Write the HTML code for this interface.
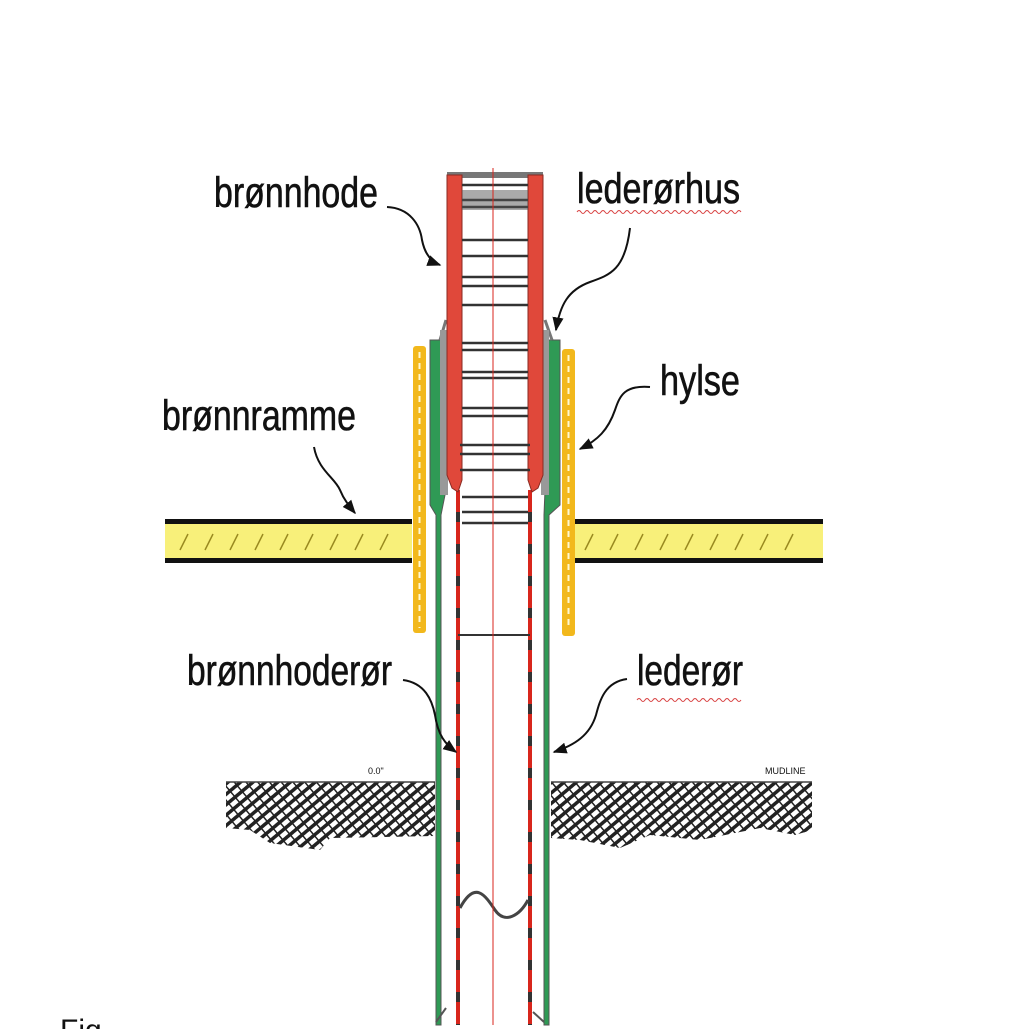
<!DOCTYPE html>
<html><head><meta charset="utf-8"><style>
html,body{margin:0;padding:0;background:#fff;}
svg{display:block;}
text{font-family:"Liberation Sans Narrow","Liberation Sans",sans-serif;fill:#111;}
.lb{stroke:#111;stroke-width:0.6;}
</style></head><body>
<svg width="1029" height="1029" viewBox="0 0 1029 1029" xmlns="http://www.w3.org/2000/svg">
<defs>
<pattern id="hatch" width="8" height="8" patternUnits="userSpaceOnUse" patternTransform="rotate(50)">
<rect width="8" height="8" fill="#fff"/>
<rect width="3.5" height="8" fill="#222"/>
</pattern>
<pattern id="hatch2" width="9" height="9" patternUnits="userSpaceOnUse" patternTransform="rotate(-40)">
<rect width="1.5" height="9" fill="#222"/>
</pattern>
<marker id="ah" viewBox="0 0 10 10" refX="9" refY="5" markerWidth="7" markerHeight="7" orient="auto-start-reverse">
<path d="M0,1 L10,5 L0,9 z" fill="#111"/>
</marker>
</defs>

<!-- ground -->
<path d="M226,782 L435,782 L435,836 L330,838 L320,850 L270,843 L250,830 L226,828 Z" fill="url(#hatch)"/>
<path d="M226,782 L435,782 L435,836 L330,838 L320,850 L270,843 L250,830 L226,828 Z" fill="url(#hatch2)"/>
<path d="M551,782 L812,782 L812,830 L795,835 L760,828 L700,840 L650,835 L620,848 L580,840 L551,838 Z" fill="url(#hatch)"/>
<path d="M551,782 L812,782 L812,830 L795,835 L760,828 L700,840 L650,835 L620,848 L580,840 L551,838 Z" fill="url(#hatch2)"/>
<line x1="226" y1="782" x2="435" y2="782" stroke="#444" stroke-width="1.5"/>
<line x1="551" y1="782" x2="812" y2="782" stroke="#444" stroke-width="1.5"/>
<text x="368" y="774" font-size="9">0.0"</text>
<text x="765" y="774" font-size="9">MUDLINE</text>

<!-- frame bars -->
<rect x="165" y="520" width="247" height="41" fill="#f8f07a"/>
<rect x="165" y="519" width="247" height="5" fill="#111"/>
<rect x="165" y="558" width="247" height="5" fill="#111"/>
<rect x="572" y="520" width="251" height="41" fill="#f8f07a"/>
<rect x="572" y="519" width="251" height="5" fill="#111"/>
<rect x="572" y="558" width="251" height="5" fill="#111"/>
<g stroke="#9a8a20" stroke-width="1.5">
<path d="M180,550 l8,-16 M205,550 l8,-16 M230,550 l8,-16 M255,550 l8,-16 M280,550 l8,-16 M305,550 l8,-16 M330,550 l8,-16 M355,550 l8,-16 M380,550 l8,-16"/>
<path d="M585,550 l8,-16 M610,550 l8,-16 M635,550 l8,-16 M660,550 l8,-16 M685,550 l8,-16 M710,550 l8,-16 M735,550 l8,-16 M760,550 l8,-16 M785,550 l8,-16"/>
</g>

<!-- hylse (yellow sleeves) -->
<rect x="413" y="346" width="13" height="287" rx="3" fill="#f2b81c"/>
<line x1="419.5" y1="352" x2="419.5" y2="628" stroke="#fff8d0" stroke-width="2" stroke-dasharray="6,5"/>
<rect x="562" y="349" width="13" height="287" rx="3" fill="#f2b81c"/>
<line x1="568.5" y1="355" x2="568.5" y2="630" stroke="#fff8d0" stroke-width="2" stroke-dasharray="6,5"/>

<!-- lederør (green outer) -->
<path d="M430,340 L446,340 L446,490 L441,515 L441,1025 L436,1025 L436,515 L430,505 Z" fill="#2f9a55" stroke="#555" stroke-width="1"/>
<path d="M545,340 L560,340 L560,505 L549,515 L549,1025 L544,1025 L544,515 L545,490 Z" fill="#2f9a55" stroke="#555" stroke-width="1"/>
<path d="M446,320 L440,340 M545,320 L552,340" stroke="#777" stroke-width="3"/>
<rect x="440" y="330" width="8" height="165" fill="#999"/>
<rect x="541" y="330" width="8" height="165" fill="#999"/>

<!-- inner pipe -->
<line x1="458" y1="490" x2="458" y2="1025" stroke="#333" stroke-width="4"/>
<line x1="458" y1="490" x2="458" y2="1025" stroke="#d8261c" stroke-width="4" stroke-dasharray="22,10"/>
<line x1="530" y1="490" x2="530" y2="1025" stroke="#333" stroke-width="4"/>
<line x1="530" y1="490" x2="530" y2="1025" stroke="#d8261c" stroke-width="4" stroke-dasharray="22,10"/>
<line x1="458" y1="635" x2="530" y2="635" stroke="#333" stroke-width="2"/>
<path d="M460,908 C475,880 485,895 495,910 C505,925 520,915 528,900" fill="none" stroke="#444" stroke-width="3"/>
<path d="M436,1022 L446,1008 M544,1022 L533,1012" stroke="#555" stroke-width="2"/>

<!-- brønnhode -->
<rect x="447" y="172" width="96" height="6" fill="#777"/>
<path d="M447,175 L462,175 L462,480 L458,492 L452,488 L447,475 Z" fill="#e0483a" stroke="#8a2a22" stroke-width="1"/>
<path d="M528,175 L543,175 L543,475 L538,488 L532,492 L528,480 Z" fill="#e0483a" stroke="#8a2a22" stroke-width="1"/>
<g stroke="#333" stroke-width="2.5">
<line x1="462" y1="185" x2="528" y2="185"/>
<line x1="462" y1="200" x2="528" y2="200"/>
<line x1="462" y1="207" x2="528" y2="207"/>
<line x1="462" y1="240" x2="528" y2="240"/>
<line x1="462" y1="256" x2="528" y2="256"/>
<line x1="462" y1="277" x2="528" y2="277"/>
<line x1="462" y1="286" x2="528" y2="286"/>
<line x1="462" y1="305" x2="528" y2="305"/>
<line x1="462" y1="343" x2="528" y2="343"/>
<line x1="462" y1="350" x2="528" y2="350"/>
<line x1="462" y1="372" x2="528" y2="372"/>
<line x1="462" y1="378" x2="528" y2="378"/>
<line x1="462" y1="408" x2="528" y2="408"/>
<line x1="462" y1="416" x2="528" y2="416"/>
<line x1="460" y1="445" x2="530" y2="445"/>
<line x1="460" y1="454" x2="530" y2="454"/>
<line x1="460" y1="470" x2="530" y2="470"/>
<line x1="462" y1="497" x2="528" y2="497"/>
<line x1="462" y1="512" x2="528" y2="512"/>
<line x1="462" y1="523" x2="528" y2="523"/>
</g>
<rect x="462" y="190" width="66" height="20" fill="#555" opacity="0.5"/>
<line x1="493" y1="168" x2="493" y2="1025" stroke="#d8261c" stroke-width="1"/>

<!-- arrows -->
<g fill="none" stroke="#111" stroke-width="2">
<path d="M387,207 C410,208 420,225 422,240 C425,255 432,262 440,265" marker-end="url(#ah)"/>
<path d="M630,228 C625,270 610,275 590,282 C568,290 560,305 556,330" marker-end="url(#ah)"/>
<path d="M650,387 C625,385 620,395 615,410 C608,430 598,440 580,449" marker-end="url(#ah)"/>
<path d="M314,447 C318,470 335,478 340,490 C344,500 350,507 355,513" marker-end="url(#ah)"/>
<path d="M403,680 C425,683 432,700 435,715 C438,735 445,744 456,752" marker-end="url(#ah)"/>
<path d="M627,679 C605,682 600,700 596,715 C590,735 575,745 554,752" marker-end="url(#ah)"/>
</g>

<!-- labels -->
<text class="lb" x="214" y="207" font-size="43" textLength="164" lengthAdjust="spacingAndGlyphs">brønnhode</text>
<text class="lb" x="577" y="203" font-size="43" textLength="163" lengthAdjust="spacingAndGlyphs">lederørhus</text>
<path d="M577,212 q2,-3 4,0 q2,3 4,0 q2,-3 4,0 q2,3 4,0 q2,-3 4,0 q2,3 4,0 q2,-3 4,0 q2,3 4,0 q2,-3 4,0 q2,3 4,0 q2,-3 4,0 q2,3 4,0 q2,-3 4,0 q2,3 4,0 q2,-3 4,0 q2,3 4,0 q2,-3 4,0 q2,3 4,0 q2,-3 4,0 q2,3 4,0 q2,-3 4,0 q2,3 4,0 q2,-3 4,0 q2,3 4,0 q2,-3 4,0 q2,3 4,0 q2,-3 4,0 q2,3 4,0 q2,-3 4,0 q2,3 4,0 q2,-3 4,0 q2,3 4,0 q2,-3 4,0 q2,3 4,0 q2,-3 4,0 q2,3 4,0 q2,-3 4,0 q2,3 4,0 q2,-3 4,0 q2,3 4,0 q2,-3 4,0" fill="none" stroke="#d84040" stroke-width="1"/>
<text class="lb" x="660" y="395" font-size="43" textLength="80" lengthAdjust="spacingAndGlyphs">hylse</text>
<text class="lb" x="162" y="430" font-size="43" textLength="194" lengthAdjust="spacingAndGlyphs">brønnramme</text>
<text class="lb" x="187" y="685" font-size="43" textLength="205" lengthAdjust="spacingAndGlyphs">brønnhoderør</text>
<text class="lb" x="637" y="685" font-size="43" textLength="106" lengthAdjust="spacingAndGlyphs">lederør</text>
<path d="M637,700 q2,-3 4,0 q2,3 4,0 q2,-3 4,0 q2,3 4,0 q2,-3 4,0 q2,3 4,0 q2,-3 4,0 q2,3 4,0 q2,-3 4,0 q2,3 4,0 q2,-3 4,0 q2,3 4,0 q2,-3 4,0 q2,3 4,0 q2,-3 4,0 q2,3 4,0 q2,-3 4,0 q2,3 4,0 q2,-3 4,0 q2,3 4,0 q2,-3 4,0 q2,3 4,0 q2,-3 4,0 q2,3 4,0 q2,-3 4,0 q2,3 4,0" fill="none" stroke="#d84040" stroke-width="1"/>
<text x="60" y="1040" font-size="30">Fig.</text>
</svg>
</body></html>
